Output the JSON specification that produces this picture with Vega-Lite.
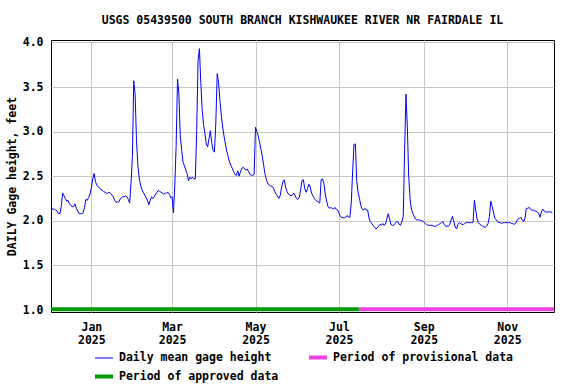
{
  "$schema": "https://vega.github.io/schema/vega-lite/v6.json",
  "width": 503,
  "height": 272,
  "autosize": "none",
  "padding": {"left": 51, "top": 40, "right": 22, "bottom": 72},
  "background": "white",
  "config": {
    "view": {"stroke": "black", "strokeWidth": 1},
    "font": "DejaVu Sans Mono",
    "axis": {
      "domain": false,
      "ticks": false,
      "gridColor": "#c8c8c8",
      "gridWidth": 1,
      "labelFont": "DejaVu Sans Mono",
      "labelFontSize": 11.5,
      "labelFontWeight": "bold",
      "labelColor": "black",
      "titleFont": "DejaVu Sans Mono",
      "titleFontSize": 11.5,
      "titleFontWeight": "bold",
      "titleColor": "black"
    },
    "legend": {
      "orient": "none",
      "legendX": 42,
      "legendY": 306.5,
      "direction": "horizontal",
      "columns": 2,
      "padding": 0,
      "symbolType": "stroke",
      "symbolSize": 324,
      "labelFont": "DejaVu Sans Mono",
      "labelFontSize": 11.5,
      "labelFontWeight": "bold",
      "labelColor": "black",
      "labelOffset": 4,
      "labelLimit": 0,
      "columnPadding": 22,
      "rowPadding": 0
    }
  },
  "title": {
    "text": "USGS 05439500 SOUTH BRANCH KISHWAUKEE RIVER NR FAIRDALE IL",
    "font": "DejaVu Sans Mono",
    "fontSize": 11.5,
    "fontWeight": "bold",
    "color": "black",
    "anchor": "middle",
    "offset": 10
  },
  "layer": [
    {
      "data": {"values": [
        {"date":"2024-12-03","height":2.14},{"date":"2024-12-04","height":2.13},{"date":"2024-12-05","height":2.13},{"date":"2024-12-06","height":2.12},{"date":"2024-12-07","height":2.11},{"date":"2024-12-08","height":2.08},{"date":"2024-12-09","height":2.08},{"date":"2024-12-10","height":2.16},{"date":"2024-12-11","height":2.31},{"date":"2024-12-12","height":2.28},{"date":"2024-12-13","height":2.25},{"date":"2024-12-14","height":2.22},{"date":"2024-12-15","height":2.23},{"date":"2024-12-16","height":2.19},{"date":"2024-12-17","height":2.17},{"date":"2024-12-18","height":2.16},{"date":"2024-12-19","height":2.16},{"date":"2024-12-20","height":2.19},{"date":"2024-12-21","height":2.14},{"date":"2024-12-22","height":2.11},{"date":"2024-12-23","height":2.08},{"date":"2024-12-24","height":2.08},{"date":"2024-12-25","height":2.08},{"date":"2024-12-26","height":2.09},{"date":"2024-12-27","height":2.15},{"date":"2024-12-28","height":2.24},{"date":"2024-12-29","height":2.23},{"date":"2024-12-30","height":2.26},{"date":"2024-12-31","height":2.30},
        {"date":"2025-01-01","height":2.37},{"date":"2025-01-02","height":2.47},{"date":"2025-01-03","height":2.53},{"date":"2025-01-04","height":2.44},{"date":"2025-01-05","height":2.40},{"date":"2025-01-06","height":2.38},{"date":"2025-01-07","height":2.37},{"date":"2025-01-08","height":2.35},{"date":"2025-01-09","height":2.34},{"date":"2025-01-10","height":2.33},{"date":"2025-01-11","height":2.32},{"date":"2025-01-12","height":2.31},{"date":"2025-01-13","height":2.31},{"date":"2025-01-14","height":2.32},{"date":"2025-01-15","height":2.31},{"date":"2025-01-16","height":2.29},{"date":"2025-01-17","height":2.27},{"date":"2025-01-18","height":2.23},{"date":"2025-01-19","height":2.21},{"date":"2025-01-20","height":2.21},{"date":"2025-01-21","height":2.21},{"date":"2025-01-22","height":2.24},{"date":"2025-01-23","height":2.26},{"date":"2025-01-24","height":2.27},{"date":"2025-01-25","height":2.27},{"date":"2025-01-26","height":2.28},{"date":"2025-01-27","height":2.27},{"date":"2025-01-28","height":2.24},{"date":"2025-01-29","height":2.20},{"date":"2025-01-30","height":2.42},{"date":"2025-01-31","height":2.72},
        {"date":"2025-02-01","height":3.57},{"date":"2025-02-02","height":3.42},{"date":"2025-02-03","height":2.90},{"date":"2025-02-04","height":2.62},{"date":"2025-02-05","height":2.48},{"date":"2025-02-06","height":2.40},{"date":"2025-02-07","height":2.35},{"date":"2025-02-08","height":2.32},{"date":"2025-02-09","height":2.29},{"date":"2025-02-10","height":2.26},{"date":"2025-02-11","height":2.23},{"date":"2025-02-12","height":2.18},{"date":"2025-02-13","height":2.23},{"date":"2025-02-14","height":2.27},{"date":"2025-02-15","height":2.25},{"date":"2025-02-16","height":2.27},{"date":"2025-02-17","height":2.30},{"date":"2025-02-18","height":2.32},{"date":"2025-02-19","height":2.34},{"date":"2025-02-20","height":2.33},{"date":"2025-02-21","height":2.32},{"date":"2025-02-22","height":2.31},{"date":"2025-02-23","height":2.30},{"date":"2025-02-24","height":2.31},{"date":"2025-02-25","height":2.31},{"date":"2025-02-26","height":2.32},{"date":"2025-02-27","height":2.30},{"date":"2025-02-28","height":2.26},
        {"date":"2025-03-01","height":2.27},{"date":"2025-03-02","height":2.09},{"date":"2025-03-03","height":2.40},{"date":"2025-03-04","height":2.85},{"date":"2025-03-05","height":3.59},{"date":"2025-03-06","height":3.42},{"date":"2025-03-07","height":2.95},{"date":"2025-03-08","height":2.80},{"date":"2025-03-09","height":2.66},{"date":"2025-03-10","height":2.62},{"date":"2025-03-11","height":2.57},{"date":"2025-03-12","height":2.53},{"date":"2025-03-13","height":2.45},{"date":"2025-03-14","height":2.49},{"date":"2025-03-15","height":2.47},{"date":"2025-03-16","height":2.49},{"date":"2025-03-17","height":2.47},{"date":"2025-03-18","height":2.47},{"date":"2025-03-19","height":3.00},{"date":"2025-03-20","height":3.80},{"date":"2025-03-21","height":3.93},{"date":"2025-03-22","height":3.55},{"date":"2025-03-23","height":3.25},{"date":"2025-03-24","height":3.08},{"date":"2025-03-25","height":2.98},{"date":"2025-03-26","height":2.86},{"date":"2025-03-27","height":2.83},{"date":"2025-03-28","height":2.92},{"date":"2025-03-29","height":3.01},{"date":"2025-03-30","height":2.88},{"date":"2025-03-31","height":2.79},
        {"date":"2025-04-01","height":2.77},{"date":"2025-04-02","height":3.10},{"date":"2025-04-03","height":3.65},{"date":"2025-04-04","height":3.55},{"date":"2025-04-05","height":3.35},{"date":"2025-04-06","height":3.18},{"date":"2025-04-07","height":3.05},{"date":"2025-04-08","height":2.95},{"date":"2025-04-09","height":2.86},{"date":"2025-04-10","height":2.78},{"date":"2025-04-11","height":2.72},{"date":"2025-04-12","height":2.66},{"date":"2025-04-13","height":2.62},{"date":"2025-04-14","height":2.59},{"date":"2025-04-15","height":2.55},{"date":"2025-04-16","height":2.52},{"date":"2025-04-17","height":2.51},{"date":"2025-04-18","height":2.56},{"date":"2025-04-19","height":2.50},{"date":"2025-04-20","height":2.55},{"date":"2025-04-21","height":2.59},{"date":"2025-04-22","height":2.60},{"date":"2025-04-23","height":2.58},{"date":"2025-04-24","height":2.57},{"date":"2025-04-25","height":2.58},{"date":"2025-04-26","height":2.55},{"date":"2025-04-27","height":2.52},{"date":"2025-04-28","height":2.51},{"date":"2025-04-29","height":2.51},{"date":"2025-04-30","height":2.52},
        {"date":"2025-05-01","height":3.05},{"date":"2025-05-02","height":3.00},{"date":"2025-05-03","height":2.95},{"date":"2025-05-04","height":2.88},{"date":"2025-05-05","height":2.80},{"date":"2025-05-06","height":2.72},{"date":"2025-05-07","height":2.62},{"date":"2025-05-08","height":2.52},{"date":"2025-05-09","height":2.46},{"date":"2025-05-10","height":2.42},{"date":"2025-05-11","height":2.40},{"date":"2025-05-12","height":2.39},{"date":"2025-05-13","height":2.39},{"date":"2025-05-14","height":2.37},{"date":"2025-05-15","height":2.33},{"date":"2025-05-16","height":2.30},{"date":"2025-05-17","height":2.28},{"date":"2025-05-18","height":2.25},{"date":"2025-05-19","height":2.28},{"date":"2025-05-20","height":2.37},{"date":"2025-05-21","height":2.44},{"date":"2025-05-22","height":2.46},{"date":"2025-05-23","height":2.38},{"date":"2025-05-24","height":2.33},{"date":"2025-05-25","height":2.30},{"date":"2025-05-26","height":2.29},{"date":"2025-05-27","height":2.28},{"date":"2025-05-28","height":2.29},{"date":"2025-05-29","height":2.31},{"date":"2025-05-30","height":2.28},{"date":"2025-05-31","height":2.25},
        {"date":"2025-06-01","height":2.24},{"date":"2025-06-02","height":2.26},{"date":"2025-06-03","height":2.35},{"date":"2025-06-04","height":2.45},{"date":"2025-06-05","height":2.46},{"date":"2025-06-06","height":2.36},{"date":"2025-06-07","height":2.32},{"date":"2025-06-08","height":2.36},{"date":"2025-06-09","height":2.41},{"date":"2025-06-10","height":2.38},{"date":"2025-06-11","height":2.31},{"date":"2025-06-12","height":2.28},{"date":"2025-06-13","height":2.25},{"date":"2025-06-14","height":2.23},{"date":"2025-06-15","height":2.22},{"date":"2025-06-16","height":2.21},{"date":"2025-06-17","height":2.20},{"date":"2025-06-18","height":2.46},{"date":"2025-06-19","height":2.47},{"date":"2025-06-20","height":2.42},{"date":"2025-06-21","height":2.30},{"date":"2025-06-22","height":2.22},{"date":"2025-06-23","height":2.16},{"date":"2025-06-24","height":2.14},{"date":"2025-06-25","height":2.15},{"date":"2025-06-26","height":2.14},{"date":"2025-06-27","height":2.13},{"date":"2025-06-28","height":2.15},{"date":"2025-06-29","height":2.13},{"date":"2025-06-30","height":2.12},
        {"date":"2025-07-01","height":2.09},{"date":"2025-07-02","height":2.05},{"date":"2025-07-03","height":2.04},{"date":"2025-07-04","height":2.035},{"date":"2025-07-05","height":2.035},{"date":"2025-07-06","height":2.04},{"date":"2025-07-07","height":2.06},{"date":"2025-07-08","height":2.04},{"date":"2025-07-09","height":2.04},{"date":"2025-07-10","height":2.20},{"date":"2025-07-11","height":2.55},{"date":"2025-07-12","height":2.86},{"date":"2025-07-13","height":2.86},{"date":"2025-07-14","height":2.45},{"date":"2025-07-15","height":2.32},{"date":"2025-07-16","height":2.25},{"date":"2025-07-17","height":2.17},{"date":"2025-07-18","height":2.13},{"date":"2025-07-19","height":2.12},{"date":"2025-07-20","height":2.14},{"date":"2025-07-21","height":2.12},{"date":"2025-07-22","height":2.12},{"date":"2025-07-23","height":2.03},{"date":"2025-07-24","height":1.99},{"date":"2025-07-25","height":1.97},{"date":"2025-07-26","height":1.95},{"date":"2025-07-27","height":1.93},{"date":"2025-07-28","height":1.91},{"date":"2025-07-29","height":1.92},{"date":"2025-07-30","height":1.94},{"date":"2025-07-31","height":1.96},
        {"date":"2025-08-01","height":1.95},{"date":"2025-08-02","height":1.97},{"date":"2025-08-03","height":1.95},{"date":"2025-08-04","height":1.96},{"date":"2025-08-05","height":2.02},{"date":"2025-08-06","height":2.08},{"date":"2025-08-07","height":2.02},{"date":"2025-08-08","height":1.96},{"date":"2025-08-09","height":1.95},{"date":"2025-08-10","height":1.95},{"date":"2025-08-11","height":1.97},{"date":"2025-08-12","height":1.99},{"date":"2025-08-13","height":1.99},{"date":"2025-08-14","height":1.96},{"date":"2025-08-15","height":1.95},{"date":"2025-08-16","height":1.99},{"date":"2025-08-17","height":2.05},{"date":"2025-08-18","height":2.80},{"date":"2025-08-19","height":3.42},{"date":"2025-08-20","height":3.05},{"date":"2025-08-21","height":2.50},{"date":"2025-08-22","height":2.24},{"date":"2025-08-23","height":2.13},{"date":"2025-08-24","height":2.08},{"date":"2025-08-25","height":2.05},{"date":"2025-08-26","height":2.02},{"date":"2025-08-27","height":2.01},{"date":"2025-08-28","height":2.01},{"date":"2025-08-29","height":2.01},{"date":"2025-08-30","height":2.00},{"date":"2025-08-31","height":2.00},
        {"date":"2025-09-01","height":1.99},{"date":"2025-09-02","height":1.97},{"date":"2025-09-03","height":1.96},{"date":"2025-09-04","height":1.95},{"date":"2025-09-05","height":1.95},{"date":"2025-09-06","height":1.95},{"date":"2025-09-07","height":1.95},{"date":"2025-09-08","height":1.94},{"date":"2025-09-09","height":1.94},{"date":"2025-09-10","height":1.94},{"date":"2025-09-11","height":1.95},{"date":"2025-09-12","height":1.96},{"date":"2025-09-13","height":1.97},{"date":"2025-09-14","height":1.98},{"date":"2025-09-15","height":1.99},{"date":"2025-09-16","height":1.96},{"date":"2025-09-17","height":1.94},{"date":"2025-09-18","height":1.94},{"date":"2025-09-19","height":1.94},{"date":"2025-09-20","height":1.96},{"date":"2025-09-21","height":2.01},{"date":"2025-09-22","height":2.05},{"date":"2025-09-23","height":1.99},{"date":"2025-09-24","height":1.93},{"date":"2025-09-25","height":1.91},{"date":"2025-09-26","height":1.96},{"date":"2025-09-27","height":1.98},{"date":"2025-09-28","height":1.97},{"date":"2025-09-29","height":1.96},{"date":"2025-09-30","height":1.96},
        {"date":"2025-10-01","height":1.97},{"date":"2025-10-02","height":1.98},{"date":"2025-10-03","height":1.98},{"date":"2025-10-04","height":1.98},{"date":"2025-10-05","height":1.98},{"date":"2025-10-06","height":1.98},{"date":"2025-10-07","height":1.98},{"date":"2025-10-08","height":2.23},{"date":"2025-10-09","height":2.12},{"date":"2025-10-10","height":2.02},{"date":"2025-10-11","height":1.98},{"date":"2025-10-12","height":1.96},{"date":"2025-10-13","height":1.95},{"date":"2025-10-14","height":1.94},{"date":"2025-10-15","height":1.93},{"date":"2025-10-16","height":1.93},{"date":"2025-10-17","height":1.94},{"date":"2025-10-18","height":1.97},{"date":"2025-10-19","height":2.05},{"date":"2025-10-20","height":2.22},{"date":"2025-10-21","height":2.16},{"date":"2025-10-22","height":2.09},{"date":"2025-10-23","height":2.03},{"date":"2025-10-24","height":2.01},{"date":"2025-10-25","height":1.99},{"date":"2025-10-26","height":1.98},{"date":"2025-10-27","height":1.98},{"date":"2025-10-28","height":1.97},{"date":"2025-10-29","height":1.98},{"date":"2025-10-30","height":1.98},{"date":"2025-10-31","height":1.98},
        {"date":"2025-11-01","height":1.98},{"date":"2025-11-02","height":1.98},{"date":"2025-11-03","height":1.98},{"date":"2025-11-04","height":1.97},{"date":"2025-11-05","height":1.97},{"date":"2025-11-06","height":1.96},{"date":"2025-11-07","height":1.97},{"date":"2025-11-08","height":2.00},{"date":"2025-11-09","height":2.02},{"date":"2025-11-10","height":2.03},{"date":"2025-11-11","height":2.04},{"date":"2025-11-12","height":2.01},{"date":"2025-11-13","height":1.99},{"date":"2025-11-14","height":2.03},{"date":"2025-11-15","height":2.14},{"date":"2025-11-16","height":2.14},{"date":"2025-11-17","height":2.15},{"date":"2025-11-18","height":2.13},{"date":"2025-11-19","height":2.12},{"date":"2025-11-20","height":2.12},{"date":"2025-11-21","height":2.11},{"date":"2025-11-22","height":2.11},{"date":"2025-11-23","height":2.10},{"date":"2025-11-24","height":2.08},{"date":"2025-11-25","height":2.04},{"date":"2025-11-26","height":2.10},{"date":"2025-11-27","height":2.13},{"date":"2025-11-28","height":2.11},{"date":"2025-11-29","height":2.10},{"date":"2025-11-30","height":2.10},
        {"date":"2025-12-01","height":2.10},{"date":"2025-12-02","height":2.10},{"date":"2025-12-03","height":2.10},{"date":"2025-12-04","height":2.09}
      ]},
      "mark": {"type": "line", "strokeJoin": "miter", "interpolate": "linear"},
      "encoding": {
        "x": {
          "field": "date", "type": "temporal",
          "scale": {"type": "utc", "domain": [
            {"year": 2024, "month": 12, "date": 2, "hours": 12, "utc": true},
            {"year": 2025, "month": 12, "date": 5, "hours": 5, "utc": true}
          ]},
          "axis": {
            "title": null,
            "grid": true,
            "values": [
              {"year": 2025, "month": 1, "date": 1, "utc": true},
              {"year": 2025, "month": 3, "date": 1, "utc": true},
              {"year": 2025, "month": 5, "date": 1, "utc": true},
              {"year": 2025, "month": 7, "date": 1, "utc": true},
              {"year": 2025, "month": 9, "date": 1, "utc": true},
              {"year": 2025, "month": 11, "date": 1, "utc": true}
            ],
            "labelExpr": "[utcFormat(datum.value, '%b'), utcFormat(datum.value, '%Y')]",
            "labelLineHeight": 13.5,
            "labelPadding": 9,
            "labelAlign": "center"
          }
        },
        "y": {
          "field": "height", "type": "quantitative",
          "scale": {"domain": [0.978, 4.027], "nice": false, "zero": false},
          "axis": {
            "title": "DAILY Gage height, feet",
            "values": [1.0, 1.5, 2.0, 2.5, 3.0, 3.5, 4.0],
            "format": ".1f",
            "labelPadding": 8,
            "titlePadding": 5,
            "grid": true
          }
        },
        "color": {
          "datum": "Daily mean gage height", "type": "nominal",
          "scale": {
            "domain": ["Daily mean gage height", "Period of provisional data", "Period of approved data"],
            "range": ["#0000ff", "#ee44dd", "#009900"]
          },
          "legend": {"title": null}
        },
        "strokeWidth": {
          "datum": "Daily mean gage height", "type": "nominal",
          "scale": {
            "type": "ordinal",
            "domain": ["Daily mean gage height", "Period of provisional data", "Period of approved data"],
            "range": [1, 4, 4]
          },
          "legend": {"title": null}
        }
      }
    },
    {
      "data": {"values": [
        {"period": "Period of approved data", "start": "2024-12-02T12:00:00Z", "end": "2025-07-15T14:00:00Z"},
        {"period": "Period of provisional data", "start": "2025-07-15T14:00:00Z", "end": "2025-12-05T05:00:00Z"}
      ]},
      "mark": {"type": "rule", "strokeCap": "butt"},
      "encoding": {
        "x": {"field": "start", "type": "temporal"},
        "x2": {"field": "end"},
        "y": {"datum": 1.01},
        "color": {
          "field": "period", "type": "nominal",
          "scale": {
            "domain": ["Daily mean gage height", "Period of provisional data", "Period of approved data"],
            "range": ["#0000ff", "#ee44dd", "#009900"]
          },
          "legend": {"title": null}
        },
        "strokeWidth": {
          "field": "period", "type": "nominal",
          "scale": {
            "type": "ordinal",
            "domain": ["Daily mean gage height", "Period of provisional data", "Period of approved data"],
            "range": [1, 4, 4]
          },
          "legend": {"title": null}
        }
      }
    }
  ]
}
